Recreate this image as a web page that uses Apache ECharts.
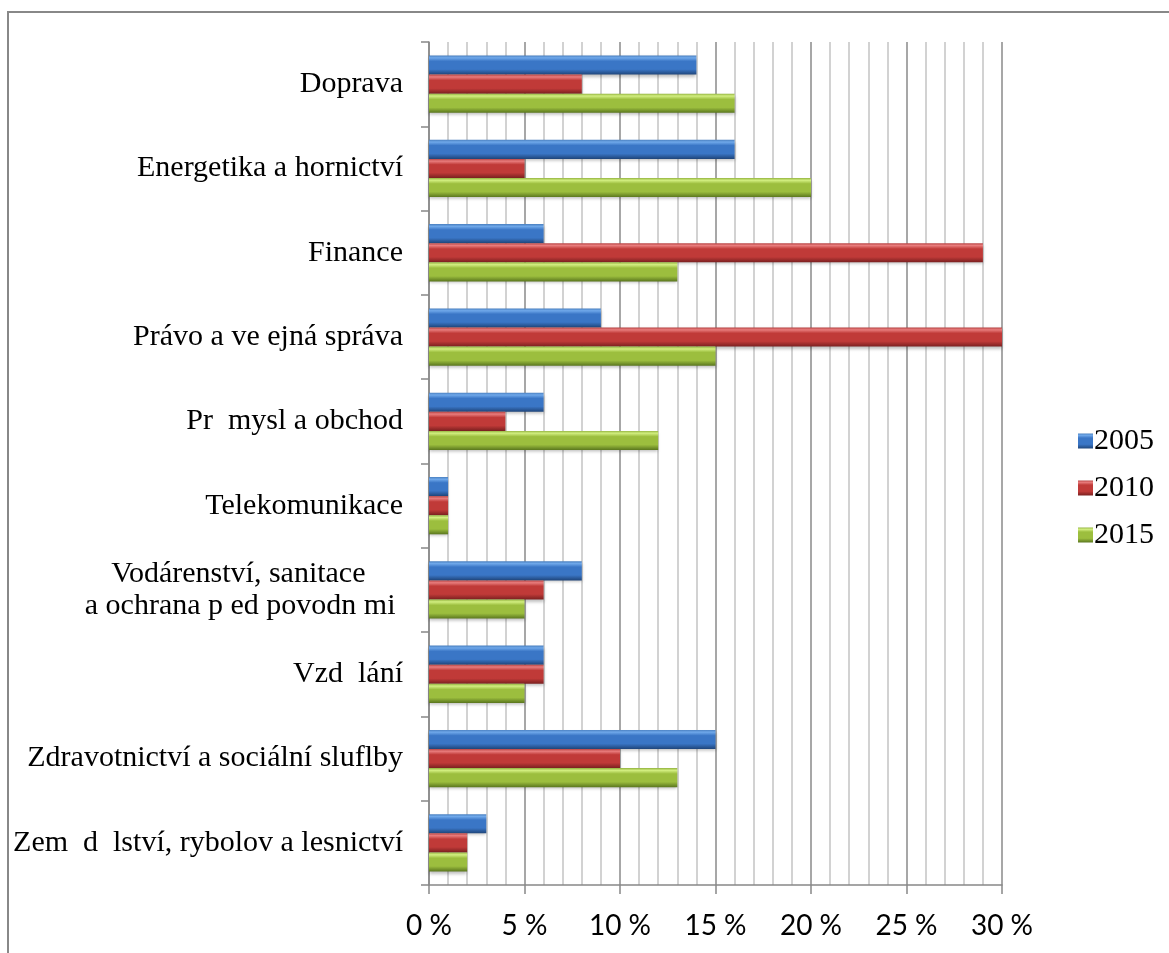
<!DOCTYPE html>
<html>
<head>
<meta charset="utf-8">
<script src="https://cdn.jsdelivr.net/npm/echarts@6/dist/echarts.min.js"></script>
<style>
html,body{margin:0;padding:0;background:#fff;}
#chart{width:1169px;height:953px;}
</style>
</head>
<body>
<div id="chart"></div>
<script>
const categories = [
  'Doprava',
  'Energetika a hornictví',
  'Finance',
  'Právo a ve ejná správa',
  'Pr  mysl a obchod',
  'Telekomunikace',
  'Vodárenství, sanitace     \na ochrana p ed povodn mi ',
  'Vzd  lání',
  'Zdravotnictví a sociální sluflby',
  'Zem  d  lství, rybolov a lesnictví'
];
const seriesNames = ['2005', '2010', '2015'];
const values2005 = [14, 16, 6, 9, 6, 1, 8, 6, 15, 3];
const values2010 = [8, 5, 29, 30, 4, 1, 6, 6, 10, 2];
const values2015 = [16, 20, 13, 15, 12, 1, 5, 5, 13, 2];
const xTicks = [0, 5, 10, 15, 20, 25, 30];

function grad(top, light, mid, dark) {
  return new echarts.graphic.LinearGradient(0, 0, 0, 1, [
    {offset: 0, color: top},
    {offset: 0.12, color: light},
    {offset: 0.3, color: mid},
    {offset: 0.72, color: mid},
    {offset: 1, color: dark}
  ]);
}
const colors = [
  grad('#4a80c0', '#6fa8ea', '#3a76c6', '#1f457a'),
  grad('#b84444', '#e87c7c', '#c03a38', '#7a2020'),
  grad('#94b440', '#d2ee80', '#9cbe3e', '#5a761e')
];
const solid = ['#3a76c6', '#c03a38', '#9cbe3e'];
const data = [values2005, values2010, values2015];
const serif = '"Liberation Serif", "Times New Roman", serif';

const chart = echarts.init(document.getElementById('chart'), null, {renderer: 'canvas'});
chart.setOption({
  animation: false,
  backgroundColor: '#fff',
  textStyle: {fontFamily: serif},
  graphic: [{
    type: 'rect',
    shape: {x: 8, y: 12, width: 1200, height: 1000},
    style: {fill: 'none', stroke: '#888', lineWidth: 2},
    silent: true,
    z: -1
  }],
  grid: {left: 429, right: 167, top: 42, bottom: 68, containLabel: false},
  legend: {
    orient: 'vertical',
    left: 1073,
    top: 421,
    itemWidth: 15,
    itemHeight: 15,
    itemGap: 17,
    icon: 'rect',
    textStyle: {fontFamily: serif, fontSize: 30, color: '#000', padding: [0, 0, 0, -4]},
    data: seriesNames
  },
  xAxis: {
    type: 'value',
    min: 0,
    max: 30,
    interval: 5,
    axisLine: {show: true, lineStyle: {color: '#888', width: 1.5}},
    axisTick: {show: true, length: 9, lineStyle: {color: '#888', width: 1.5}},
    axisLabel: {
      formatter: v => v + ' %',
      fontFamily: 'Lato',
      fontSize: 28,
      color: '#000',
      margin: 27
    },
    splitLine: {show: true, lineStyle: {color: '#8a8a8a', width: 1.5}},
    minorTick: {show: false, splitNumber: 5},
    minorSplitLine: {show: true, lineStyle: {color: '#c4c4c4', width: 1.5}}
  },
  yAxis: {
    type: 'category',
    inverse: true,
    data: categories,
    axisLine: {show: true, lineStyle: {color: '#888', width: 1.5}},
    axisTick: {show: true, length: 8, lineStyle: {color: '#888', width: 1.5}},
    axisLabel: {
      fontFamily: serif,
      fontSize: 30,
      color: '#000',
      margin: 26,
      lineHeight: 32
    },
    splitLine: {show: false}
  },
  series: seriesNames.map((name, i) => ({
    name: name,
    type: 'bar',
    data: data[i],
    barGap: '0%',
    barCategoryGap: '32%',
    color: solid[i],
    itemStyle: {
      color: colors[i],
      shadowColor: 'rgba(0,0,0,0.25)',
      shadowBlur: 3,
      shadowOffsetY: 2
    }
  }))
});
</script>
</body>
</html>
